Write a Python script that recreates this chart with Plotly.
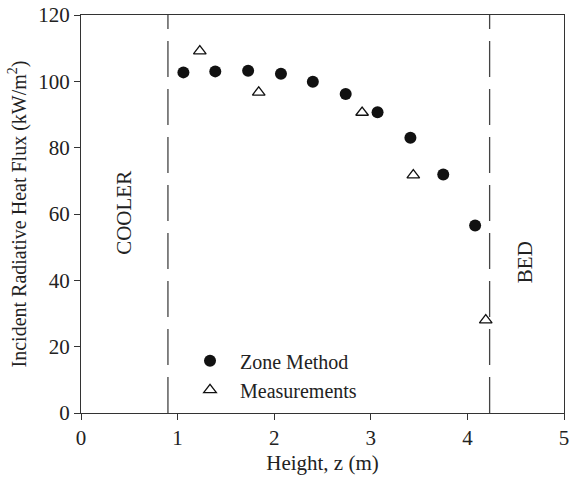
import plotly.graph_objects as go

zone_x = [1.06, 1.39, 1.73, 2.07, 2.40, 2.74, 3.07, 3.41, 3.75, 4.08]
zone_y = [102.7, 103.0, 103.2, 102.3, 99.9, 96.2, 90.7, 83.0, 71.9, 56.5]
meas_x = [1.23, 1.84, 2.91, 3.44, 4.19]
meas_y = [109.1, 96.7, 90.6, 71.7, 28.0]
boundary_x = [0.9, 4.23]
region_labels = ["COOLER", "BED"]
region_label_x = [0.45, 4.59]
region_label_y = [60.5, 45.6]

FONT = "Liberation Serif, Times New Roman, serif"
INK = "#222222"
FS = 21

fig = go.Figure()
fig.add_trace(go.Scatter(x=zone_x, y=zone_y, mode="markers", name="Zone Method",
                         marker=dict(symbol="circle", size=12, color="#111111")))
fig.add_trace(go.Scatter(x=meas_x, y=meas_y, mode="markers", name="Measurements",
                         marker=dict(symbol="triangle-up-open", size=11, color="#111111",
                                     line=dict(width=1.3, color="#111111"))))

for bx in boundary_x:
    fig.add_shape(type="line", x0=bx, x1=bx, y0=0, y1=120, xref="x", yref="y",
                  line=dict(color="#444444", width=1.3, dash="36px,12px"))

for t, lx, ly in zip(region_labels, region_label_x, region_label_y):
    fig.add_annotation(x=lx, y=ly, text=t, showarrow=False, textangle=-90,
                       font=dict(family=FONT, size=FS, color=INK))

axis_common = dict(showgrid=False, zeroline=False, showline=True, linecolor="#333333",
                   linewidth=1, mirror=True, ticks="outside", ticklen=6, tickcolor="#333333",
                   ticklabeloverflow="allow",
                   tickfont=dict(family=FONT, size=FS, color=INK))

fig.update_xaxes(range=[0, 5], tickvals=[0, 1, 2, 3, 4, 5],
                 title=dict(text="Height, z (m)", font=dict(family=FONT, size=FS, color=INK), standoff=6),
                 **axis_common)
fig.update_yaxes(range=[0, 120], tickvals=[0, 20, 40, 60, 80, 100, 120],
                 title=dict(text="Incident Radiative Heat Flux (kW/m<sup>2</sup>)",
                            font=dict(family=FONT, size=20, color=INK), standoff=6),
                 **axis_common)

fig.update_layout(
    width=572, height=481,
    margin=dict(l=81, r=3, t=10, b=68),
    paper_bgcolor="white", plot_bgcolor="white",
    showlegend=True,
    legend=dict(x=0.205, y=0.18, xanchor="left", yanchor="top", itemwidth=50,
                bgcolor="rgba(0,0,0,0)", font=dict(family=FONT, size=20, color=INK),
                tracegroupgap=0),
)

fig.write_html("out.html")
